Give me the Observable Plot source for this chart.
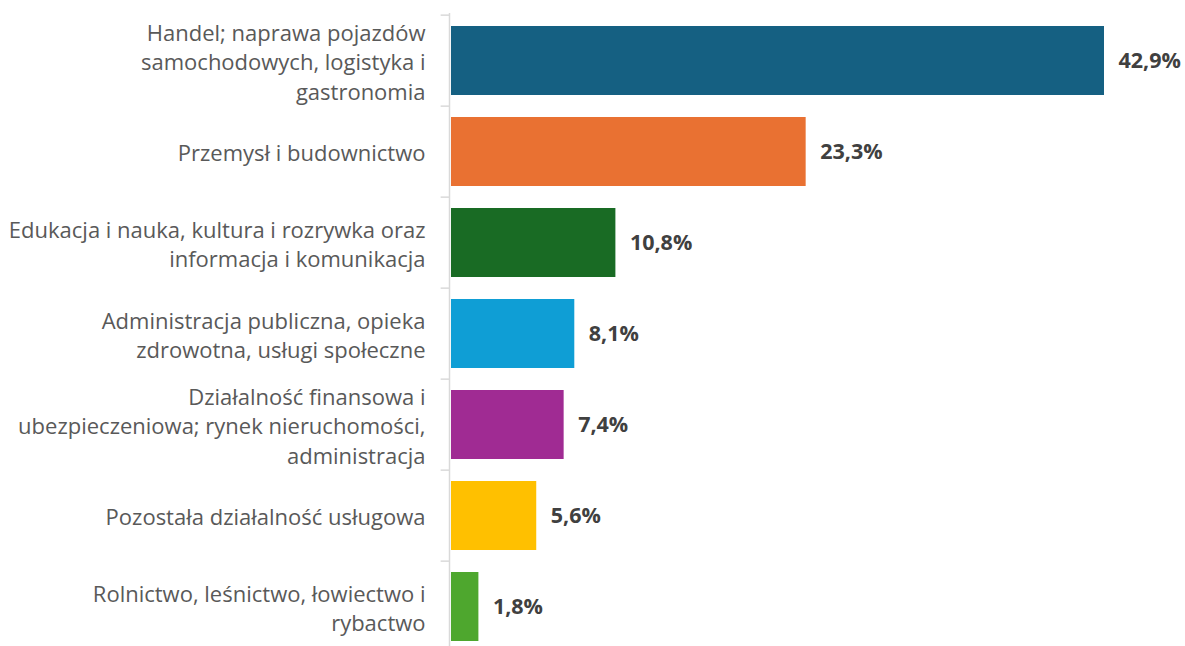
<!DOCTYPE html>
<html>
<head>
<meta charset="utf-8">
<script src="https://cdn.jsdelivr.net/npm/d3@7"></script>
<script src="https://cdn.jsdelivr.net/npm/@observablehq/plot@0.6"></script>
<style>
  html, body { margin: 0; padding: 0; background: #fff; }
  #chart svg { display: block; }
</style>
</head>
<body>
<div id="chart"></div>
<script>
const categories = [
  "Handel; naprawa pojazdów\nsamochodowych, logistyka i\ngastronomia",
  "Przemysł i budownictwo",
  "Edukacja i nauka, kultura i rozrywka oraz\ninformacja i komunikacja",
  "Administracja publiczna, opieka\nzdrowotna, usługi społeczne",
  "Działalność finansowa i\nubezpieczeniowa; rynek nieruchomości,\nadministracja",
  "Pozostała działalność usługowa",
  "Rolnictwo, leśnictwo, łowiectwo i\nrybactwo"
];
const values = [42.9, 23.3, 10.8, 8.1, 7.4, 5.6, 1.8];
const colors = ["#156082", "#E97132", "#196B24", "#0F9ED5", "#A02B93", "#FFC000", "#4EA72E"];

const data = categories.map((c, i) => ({category: c, value: values[i], color: colors[i]}));

const W = 1185, H = 646;
const yTop = 13, yBottom = 655;
const step = (yBottom - yTop) / categories.length;

const chart = Plot.plot({
  width: W,
  height: H,
  marginTop: 0, marginBottom: 0, marginLeft: 0, marginRight: 0,
  style: {fontFamily: "'Open Sans', sans-serif", background: "#fff"},
  x: {domain: [0, 42.9], range: [451, 1104], axis: null},
  y: {domain: categories, range: [yTop, yBottom], paddingInner: 0.24, paddingOuter: 0.12, axis: null},
  color: {type: "identity"},
  marks: [
    Plot.barX(data, {y: "category", x: "value", fill: "color"}),
    Plot.ruleX([0], {stroke: "#d9d9d9", strokeWidth: 1.5, dx: -2, insetTop: yTop}),
    Plot.ruleY(categories, {y: d => d, x1: -0.55, x2: 0, stroke: "#d9d9d9", strokeWidth: 1.5, dy: -step / 2, dx: -2}),
    Plot.text(data, {y: "category", x: 0, text: "category", textAnchor: "end", dx: -26, fontSize: 22, lineHeight: 1.33, fill: "#595959"}),
    Plot.text(data, {y: "category", x: "value", text: d => d.value.toFixed(1).replace(".", ",") + "%", textAnchor: "start", dx: 14, fontSize: 21.5, fontWeight: "bold", fill: "#404040"})
  ]
});
document.getElementById("chart").append(chart);
</script>
</body>
</html>
